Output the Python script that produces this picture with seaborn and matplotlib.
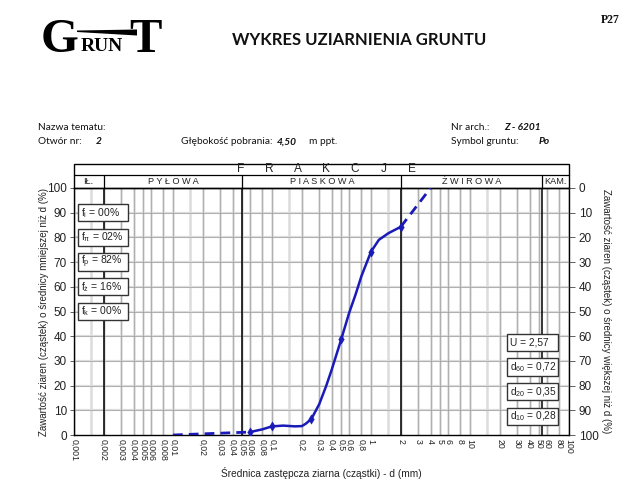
import matplotlib
matplotlib.use("Agg")
import matplotlib.pyplot as plt
import seaborn as sns
from matplotlib.patches import Rectangle, Polygon
import matplotlib.transforms as mtransforms

# ---------------- data ----------------
sieve_d = [0.06, 0.1, 0.25, 0.5, 1.0, 2.0]
sieve_pct = [1.2, 3.5, 6.5, 38.7, 74.2, 84.3]
curve_d = [0.06, 0.08, 0.1, 0.13, 0.17, 0.2, 0.22, 0.25, 0.3, 0.35, 0.4, 0.5,
           0.6, 0.7, 0.8, 1.0, 1.2, 1.5, 2.0]
curve_pct = [1.2, 2.3, 3.5, 3.8, 3.5, 3.6, 4.6, 6.5, 12.5, 19.5, 26.3, 38.7,
             49.3, 57.0, 64.3, 74.2, 79.0, 81.7, 84.3]
fine_d = [0.01, 0.06]
fine_pct = [0.0, 1.2]
coarse_d = [2.0, 4.0]
coarse_pct = [84.3, 100.0]

x_ticks = [0.001, 0.002, 0.003, 0.004, 0.005, 0.006, 0.008, 0.01, 0.02, 0.03,
           0.04, 0.05, 0.06, 0.08, 0.1, 0.2, 0.3, 0.4, 0.5, 0.6, 0.8, 1, 2, 3,
           4, 5, 6, 8, 10, 20, 30, 40, 50, 60, 80, 100]
x_labels = ["0,001", "0,002", "0,003", "0,004", "0,005", "0,006", "0,008",
            "0,01", "0,02", "0,03", "0,04", "0,05", "0,06", "0,08", "0,1",
            "0,2", "0,3", "0,4", "0,5", "0,6", "0,8", "1", "2", "3", "4", "5",
            "6", "8", "10", "20", "30", "40", "50", "60", "80", "100"]
extra_grid = [0.0015, 0.015, 0.15, 1.5, 15]
y_ticks = [0, 10, 20, 30, 40, 50, 60, 70, 80, 90, 100]

fraction_bounds = [0.002, 0.05, 2, 53]
fraction_names = ["IŁ.", "P Y Ł O W A", "P I A S K O W A", "Ż W I R O W A", "KAM."]
fraction_centers = [0.0014, 0.01, 0.32, 10.3, 73]
frakcje_letters = ["F", "R", "A", "K", "C", "J", "E"]

left_box_texts = [r"f$_\mathregular{i}$ = 00%", r"f$_\pi$ = 02%",
                  r"f$_\mathregular{p}$ = 82%", r"f$_\mathregular{ż}$ = 16%",
                  r"f$_\mathregular{k}$ = 00%"]
left_box_levels = [90, 80, 70, 60, 50]
right_box_texts = ["U = 2,57", r"d$_\mathregular{60}$ = 0,72",
                   r"d$_\mathregular{20}$ = 0,35", r"d$_\mathregular{10}$ = 0,28"]
right_box_levels = [37.5, 27.5, 17.5, 7.5]

# ---------------- style ----------------
sns.set_theme(style="white")
plt.rcParams['font.family'] = ['Liberation Sans', 'DejaVu Sans']
plt.rcParams['mathtext.fontset'] = 'custom'
plt.rcParams['mathtext.rm'] = 'Liberation Sans'
plt.rcParams['mathtext.it'] = 'Liberation Sans'
plt.rcParams['mathtext.default'] = 'regular'

W, H = 628, 491
fig = plt.figure(figsize=(W / 100, H / 100), dpi=100)
fig.patch.set_facecolor('white')

def fx(x):
    return x / W

def fy(y):
    return 1 - y / H

L, R, T, B = 74, 569, 188, 435
ax = fig.add_axes([fx(L), fy(B), (R - L) / W, (B - T) / H])
ax.set_xscale('log')
ax.set_xlim(0.001, 100)
ax.set_ylim(0, 100)

blue = '#1a1ab8'

# grid
for v in x_ticks + extra_grid:
    ax.axvline(v, color='#dcdcdc', lw=1.8, zorder=0.5)
for v in x_ticks:
    ax.axvline(v, color='#8e8e8e', lw=0.4, zorder=0.6)
for v in y_ticks[1:-1]:
    ax.axhline(v, color='#dcdcdc', lw=1.6, zorder=0.5)
    ax.axhline(v, color='#909090', lw=0.4, zorder=0.6)
for v in fraction_bounds:
    ax.axvline(v, color='black', lw=1.1, zorder=1)

# curve
sns.lineplot(x=curve_d, y=curve_pct, ax=ax, color=blue, lw=1.8,
             sort=False, estimator=None, zorder=3)
sns.lineplot(x=fine_d, y=fine_pct, ax=ax, color=blue, lw=2.0,
             sort=False, estimator=None, linestyle=(0, (3.5, 2.2)), zorder=3)
sns.lineplot(x=coarse_d, y=coarse_pct, ax=ax, color=blue, lw=2.0,
             sort=False, estimator=None, linestyle=(0, (3.5, 2.2)), zorder=3)
sns.scatterplot(x=sieve_d, y=sieve_pct, ax=ax, color=blue, marker='d',
                s=22, edgecolor=blue, zorder=4)

# ticks
ax.set_xticks(x_ticks)
ax.set_xticklabels(x_labels, rotation=270, fontsize=6.3, color='#222')
ax.xaxis.set_minor_locator(matplotlib.ticker.NullLocator())
ax.tick_params(axis='x', length=0, pad=3)
ax.set_yticks(y_ticks)
ax.set_yticklabels([str(v) for v in y_ticks], fontsize=8.5, color='#222')
ax.tick_params(axis='y', length=3, width=0.6, color='#444', pad=2, left=True)
ax.set_xlabel("Średnica zastępcza ziarna (cząstki) - d (mm)", fontsize=7.3,
              color='#222', labelpad=4)
ax.set_ylabel("Zawartość ziaren (cząstek) o średnicy mniejszej niż d (%)",
              fontsize=7.0, color='#222', labelpad=-1)
for s in ax.spines.values():
    s.set_color('black')
    s.set_linewidth(1.0)

ax2 = ax.twinx()
ax2.set_ylim(100, 0)
ax2.set_yticks(y_ticks)
ax2.set_yticklabels([str(v) for v in y_ticks], fontsize=8.5, color='#222')
ax2.tick_params(axis='y', length=4, width=0.6, color='#444', pad=3, right=True)
ax2.set_ylabel("Zawartość ziaren (cząstek) o średnicy większej niż d (%)",
               fontsize=7.0, color='#222', rotation=270, labelpad=9)
for s in ax2.spines.values():
    s.set_visible(False)

# header table
bt = ax.get_xaxis_transform()
y_mid, y_top = 1.052, 1.097
ax.add_patch(Rectangle((0, 1.0), 1, y_top - 1.0, transform=ax.transAxes,
                       fill=False, ec='black', lw=1.0, clip_on=False))
ax.plot([0, 1], [y_mid, y_mid], transform=ax.transAxes, color='black',
        lw=0.9, clip_on=False)
for v in fraction_bounds:
    ax.plot([v, v], [1.0, y_mid], transform=bt, color='black', lw=0.9,
            clip_on=False)
for name, c in zip(fraction_names, fraction_centers):
    ax.text(c, 1.026, name, transform=bt, ha='center', va='center',
            fontsize=6.6, color='#222')
for i, letter in enumerate(frakcje_letters):
    ax.text(0.336 + i * 0.0578, 1.075, letter, transform=ax.transAxes,
            ha='center', va='center', fontsize=8.6, color='#222')

# info boxes
bty = mtransforms.blended_transform_factory(ax.transAxes, ax.transData)
for txt, lev in zip(left_box_texts, left_box_levels):
    ax.add_patch(Rectangle((0.008, lev - 3.5), 0.101, 7.0, transform=bty,
                           fc='white', ec='#333', lw=1.0, zorder=5))
    ax.text(0.015, lev, txt, transform=bty, ha='left', va='center',
            fontsize=7.5, color='#222', zorder=6)
for txt, lev in zip(right_box_texts, right_box_levels):
    ax.add_patch(Rectangle((0.875, lev - 3.5), 0.103, 7.0, transform=bty,
                           fc='white', ec='#333', lw=1.0, zorder=5))
    ax.text(0.881, lev, txt, transform=bty, ha='left', va='center',
            fontsize=7.3, color='#222', zorder=6)

# page header texts
hf = ['Lato', 'DejaVu Sans']
fs = 7.3
fig.text(fx(359), fy(40), "WYKRES UZIARNIENIA GRUNTU", ha='center',
         va='center', fontsize=12, fontweight='bold', family=hf, color='#111')
fig.text(fx(38), fy(127), "Nazwa tematu:", ha='left', va='center',
         fontsize=fs, family=hf, color='#111')
fig.text(fx(38), fy(142), "Otwór nr:", ha='left', va='center',
         fontsize=fs, family=hf, color='#111')
fig.text(fx(96), fy(142), "2", ha='left', va='center', fontsize=fs,
         family=hf, fontweight='bold', style='italic', color='#111')
fig.text(fx(181), fy(142), "Głębokość pobrania:", ha='left', va='center',
         fontsize=fs, family=hf, color='#111')
fig.text(fx(277), fy(142), "4,50", ha='left', va='center', fontsize=fs,
         family=hf, fontweight='bold', style='italic', color='#111')
fig.text(fx(309), fy(142), "m ppt.", ha='left', va='center', fontsize=fs,
         family=hf, color='#111')
fig.text(fx(451), fy(127), "Nr arch.:", ha='left', va='center',
         fontsize=fs, family=hf, color='#111')
fig.text(fx(504), fy(127), "Z - 6201", ha='left', va='center', fontsize=fs,
         family=hf, fontweight='bold', style='italic', color='#111')
fig.text(fx(451), fy(142), "Symbol gruntu:", ha='left', va='center',
         fontsize=fs, family=hf, color='#111')
fig.text(fx(539), fy(142), "Po", ha='left', va='center', fontsize=fs,
         family=hf, fontweight='bold', style='italic', color='#111')
fig.text(fx(610), fy(20), "P27", ha='center', va='center', fontsize=8.5,
         family=['Liberation Serif'], fontweight='bold', color='#111')

# logo
sf = ['Liberation Serif']
fig.text(fx(41), fy(52), "G", ha='left', va='baseline', fontsize=35,
         family=sf, fontweight='bold', color='black')
fig.text(fx(81), fy(51), "RUN", ha='left', va='baseline', fontsize=14,
         family=sf, fontweight='bold', color='black')
fig.text(fx(129), fy(52), "T", ha='left', va='baseline', fontsize=35,
         family=sf, fontweight='bold', color='black')
fig.patches.append(Polygon([(fx(77), fy(30.5)), (fx(137), fy(29.5)),
                            (fx(137), fy(35.5)), (fx(77), fy(32))],
                           closed=True, transform=fig.transFigure,
                           fc='black', ec='none'))

fig.savefig("out.png", dpi=100, facecolor='white')
